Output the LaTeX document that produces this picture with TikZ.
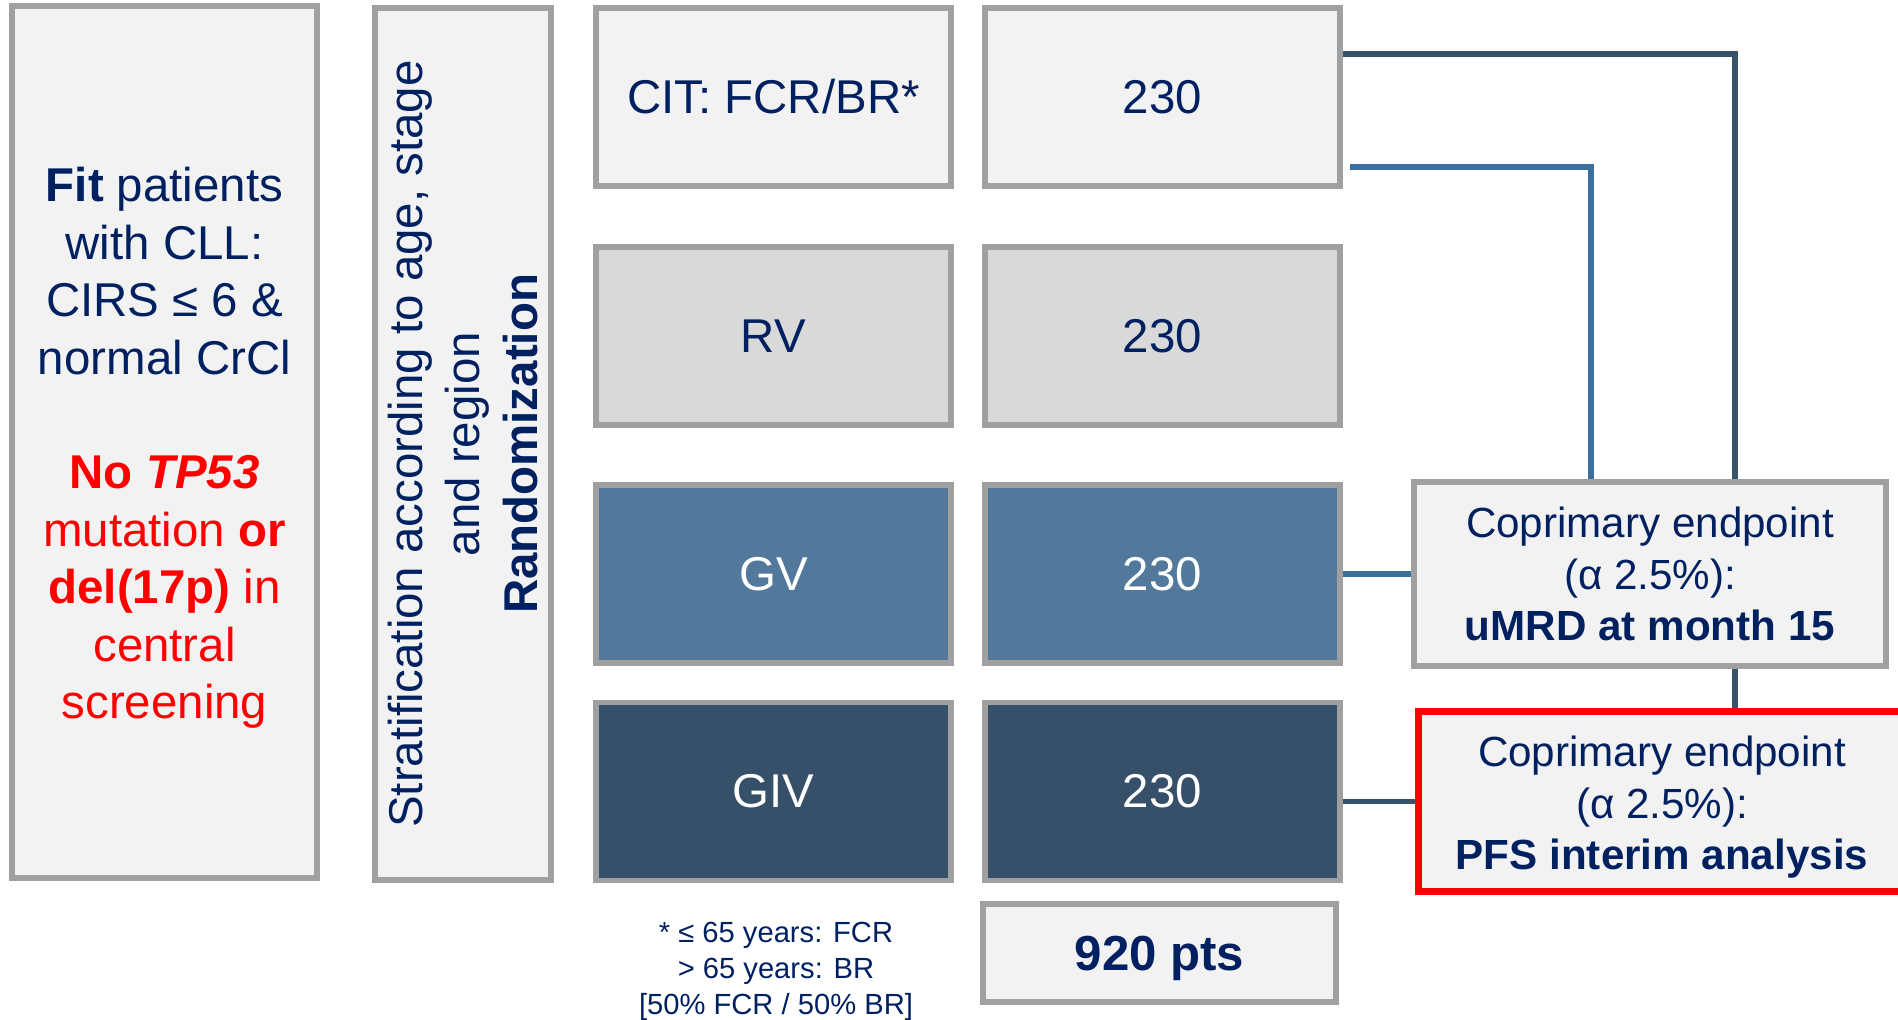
\documentclass[tikz,border=0pt]{standalone}
\usepackage{fontspec}
\setmainfont{Liberation Sans}
\usepackage{xcolor}
\definecolor{trialNavy}{HTML}{002060}
\definecolor{boxGray}{HTML}{A0A0A0}
\definecolor{boxLight}{HTML}{F2F2F2}
\definecolor{boxMid}{HTML}{D9D9D9}
\definecolor{armBlue}{HTML}{52799B}
\definecolor{armDark}{HTML}{36506A}
\definecolor{lineBlue}{HTML}{3C709B}
\definecolor{lineDark}{HTML}{37536B}
\definecolor{alertRed}{HTML}{FF0000}
\usetikzlibrary{calc}

\tikzset{
  infobox/.style={draw=boxGray, line width=3pt, fill=boxLight, inner sep=0pt,
    align=center, text=trialNavy, font=\fontsize{27}{32.7}\selectfont},
  armbox/.style={infobox, minimum width=7.1cm, minimum height=3.56cm},
  endbox/.style={infobox, minimum height=3.68cm, font=\fontsize{24}{29.3}\selectfont},
  plaintext/.style={align=center, text=trialNavy, inner sep=0pt},
  link/.style={line width=3.2pt}
}

\begin{document}
\begin{tikzpicture}[x=0.02cm, y=-0.02cm]
  \useasboundingbox (0,0) rectangle (1898,1020);
  \clip (0,0) rectangle (1898,1020);
  % ------- eligibility and stratification -------
  \node[infobox, minimum width=6.1cm, minimum height=17.44cm] (elig) at (164.5,442) {};
  \node[plaintext, font=\fontsize{27}{32.7}\selectfont] (eligtext) at (164.5,448)
    {\textbf{Fit} patients\\ with CLL:\\ CIRS ≤ 6 \&\\ normal CrCl\\[32.7pt]
     \textcolor{alertRed}{\textbf{No \textit{TP53}}}\\
     \textcolor{alertRed}{mutation \textbf{or}}\\
     \textcolor{alertRed}{\textbf{del(17p)} in}\\
     \textcolor{alertRed}{central}\\
     \textcolor{alertRed}{screening}};
  \node[infobox, rotate=90, minimum width=17.44cm, minimum height=3.52cm] (strat) at (463,444)
    {Stratification according to age, stage\\ and region\\ \textbf{Randomization}};
  % ------- treatment arms -------
  \node[armbox] (cit) at (773.5,97) {CIT: FCR/BR*};
  \node[armbox, fill=boxMid] (rv) at (773.5,336) {RV};
  \node[armbox, fill=armBlue, text=white] (gv) at (773.5,574) {GV};
  \node[armbox, fill=armDark, text=white] (giv) at (773.5,791.5) {GIV};
  % patients per arm
  \node[armbox] (ncit) at (1162.5,97) {230};
  \node[armbox, fill=boxMid] (nrv) at (1162.5,336) {230};
  \node[armbox, fill=armBlue, text=white] (ngv) at (1162.5,574) {230};
  \node[armbox, fill=armDark, text=white] (ngiv) at (1162.5,791.5) {230};
  \node[infobox, minimum width=7.06cm, minimum height=1.96cm, text depth=0pt,
    font=\fontsize{28}{33}\selectfont\bfseries] (total) at (1159.5,953) {920 pts};
  \node[plaintext, font=\fontsize{16.6}{20.5}\selectfont] (note) at (776,971)
    {* ≤ 65 years: FCR\\ > 65 years: BR\\ {[50\% FCR / 50\% BR]}};
  % ------- endpoints -------
  \coordinate (topbend) at (1735,54);
  \coordinate (midbend) at (1591,167);
  \node[endbox, minimum width=9.44cm] (epmrd) at (1650,574)
    {Coprimary endpoint\\ (α 2.5\%):\\ \textbf{uMRD at month 15}};
  \node[endbox, draw=alertRed, line width=4pt, minimum width=9.76cm, minimum height=3.62cm] (eppfs) at (1662,801.5) {};
  \node[plaintext, font=\fontsize{24}{29.3}\selectfont] (eppfstext) at (1662,807.5)
    {Coprimary endpoint\\ (α 2.5\%):\\ \textbf{PFS interim analysis}};
  % connectors
  \draw[link, lineDark] (ncit.east |- topbend) -- (topbend) -- (topbend |- epmrd.north);
  \draw[link, lineDark] (topbend |- epmrd.south) -- (topbend |- eppfs.north);
  \draw[link, lineBlue, shorten <=4pt] (ncit.east |- midbend) -- (midbend) -- (midbend |- epmrd.north);
  \draw[link, lineBlue] (ngv.east) -- (epmrd.west);
  \draw[link, lineDark] (ngiv.east |- eppfs.west) -- (eppfs.west);
\end{tikzpicture}
\end{document}
